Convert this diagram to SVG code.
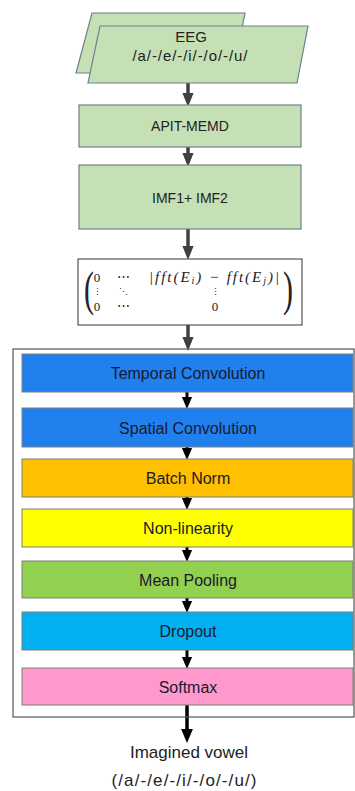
<svg xmlns="http://www.w3.org/2000/svg" width="355" height="791" viewBox="0 0 355 791">
<style>
.t{font-family:"Liberation Sans",Arial,sans-serif;fill:#222;text-anchor:middle;dominant-baseline:central}
.tb{font-family:"Liberation Sans",Arial,sans-serif;font-size:16px;fill:#1a1a2e;text-anchor:middle;dominant-baseline:central}
.g{fill:#C5E0B4;stroke:#6E7F8C;stroke-width:1.2}
.c{stroke:#7F7F7F;stroke-width:1}
.m{font-family:"Liberation Serif","Times New Roman",serif;fill:#222;text-anchor:middle}
.mi{font-family:"Liberation Serif","Times New Roman",serif;fill:#222;font-style:italic}
.ag{stroke:#404040;stroke-width:3.5;fill:none}
.ab{stroke:#000;stroke-width:3;fill:none}
</style>
<defs>
<marker id="hg" markerWidth="4" markerHeight="4" refX="2" refY="2" orient="auto" markerUnits="strokeWidth" viewBox="0 0 4 4"><path d="M0,0.4 L4,2 L0,3.6 Z" fill="#404040"/></marker>
<marker id="hb" markerWidth="4" markerHeight="4" refX="2" refY="2" orient="auto" markerUnits="strokeWidth" viewBox="0 0 4 4"><path d="M0,0.3 L4,2 L0,3.7 Z" fill="#000"/></marker>
</defs>
<rect width="355" height="791" fill="#fff"/>

<g id="connectors">
<line class="ag" x1="188" y1="83" x2="188" y2="100" marker-end="url(#hg)"/>
<line class="ag" x1="188" y1="147" x2="188" y2="160" marker-end="url(#hg)"/>
<line class="ag" x1="188" y1="229" x2="188" y2="253" marker-end="url(#hg)"/>
<line class="ag" x1="188" y1="325" x2="188" y2="344" marker-end="url(#hg)"/>
<line class="ab" x1="187" y1="392" x2="187" y2="403" marker-end="url(#hb)"/>
<line class="ab" x1="187" y1="447" x2="187" y2="454" marker-end="url(#hb)"/>
<line class="ab" x1="187" y1="497" x2="187" y2="504" marker-end="url(#hb)"/>
<line class="ab" x1="187" y1="547" x2="187" y2="556" marker-end="url(#hb)"/>
<line class="ab" x1="187" y1="598" x2="187" y2="607" marker-end="url(#hb)"/>
<line class="ab" x1="187" y1="650" x2="187" y2="663" marker-end="url(#hb)"/>
<line class="ab" x1="187" y1="705" x2="187" y2="736" style="stroke-width:3.5" marker-end="url(#hb)"/>
</g>

<g id="eeg">
<polygon class="g" points="92,13 245,13 233,73 76,73"/>
<polygon class="g" points="100,26 308,26 297,83 88,83"/>
<text class="t" x="191" y="36" style="font-size:15px">EEG</text>
<text class="t" x="190" y="55" style="font-size:15px" textLength="115">/a/-/e/-/i/-/o/-/u/</text>
</g>

<g id="apit">
<rect class="g" x="79" y="105" width="222" height="42"/>
<text class="t" x="190" y="126" style="font-size:14px">APIT-MEMD</text>
</g>

<g id="imf">
<rect class="g" x="79" y="165" width="222" height="64"/>
<text class="t" x="190" y="198" style="font-size:14px">IMF1+ IMF2</text>
</g>

<g id="matrix">
<rect x="78" y="259" width="224" height="66" fill="#fff" stroke="#555" stroke-width="1.2"/>
<text class="m" x="89" y="305" style="font-size:30px" transform="translate(0,305) scale(1,1.65) translate(0,-305)">(</text>
<text class="m" x="288" y="305" style="font-size:30px" transform="translate(0,305) scale(1,1.65) translate(0,-305)">)</text>
<text class="m" x="97" y="282" style="font-size:13px">0</text>
<text class="m" x="123" y="281" style="font-size:13px">⋯</text>
<text class="mi" x="149" y="282" style="font-size:15px" textLength="130">|fft(E<tspan style="font-size:10px" dy="2">i</tspan><tspan dy="-2">) − fft(E</tspan><tspan style="font-size:10px" dy="2">j</tspan><tspan dy="-2">)|</tspan></text>
<text class="m" x="97" y="295" style="font-size:9px">⋮</text>
<text class="m" x="123" y="295" style="font-size:9px">⋱</text>
<text class="m" x="215" y="295" style="font-size:9px">⋮</text>
<text class="m" x="97" y="311" style="font-size:13px">0</text>
<text class="m" x="123" y="310" style="font-size:13px">⋯</text>
<text class="m" x="215" y="311" style="font-size:13px">0</text>
</g>

<g id="network">
<rect x="13" y="349" width="341" height="368" fill="none" stroke="#555" stroke-width="1.2"/>
</g>

<g id="temporal">
<rect class="c" x="22" y="354" width="331" height="38" fill="#1F80EE"/>
<text class="tb" x="188" y="373">Temporal Convolution</text>
</g>
<g id="spatial">
<rect class="c" x="22" y="408" width="331" height="39" fill="#1F80EE"/>
<text class="tb" x="188" y="428">Spatial Convolution</text>
</g>
<g id="batchnorm">
<rect class="c" x="22" y="459" width="331" height="38" fill="#FFC000"/>
<text class="tb" x="188" y="478">Batch Norm</text>
</g>
<g id="nonlinearity">
<rect class="c" x="22" y="509" width="331" height="38" fill="#FFFF00"/>
<text class="tb" x="188" y="528">Non-linearity</text>
</g>
<g id="meanpooling">
<rect class="c" x="22" y="561" width="331" height="37" fill="#92D050"/>
<text class="tb" x="188" y="580">Mean Pooling</text>
</g>
<g id="dropout">
<rect class="c" x="22" y="612" width="331" height="38" fill="#00B0F0"/>
<text class="tb" x="188" y="631">Dropout</text>
</g>
<g id="softmax">
<rect class="c" x="22" y="668" width="331" height="37" fill="#FF99CC"/>
<text class="tb" x="188" y="687">Softmax</text>
</g>

<g id="output">
<text class="t" x="189" y="752" style="font-size:17px">Imagined vowel</text>
<text class="t" x="184" y="780" style="font-size:17px" textLength="145">(/a/-/e/-/i/-/o/-/u/)</text>
</g>
</svg>
